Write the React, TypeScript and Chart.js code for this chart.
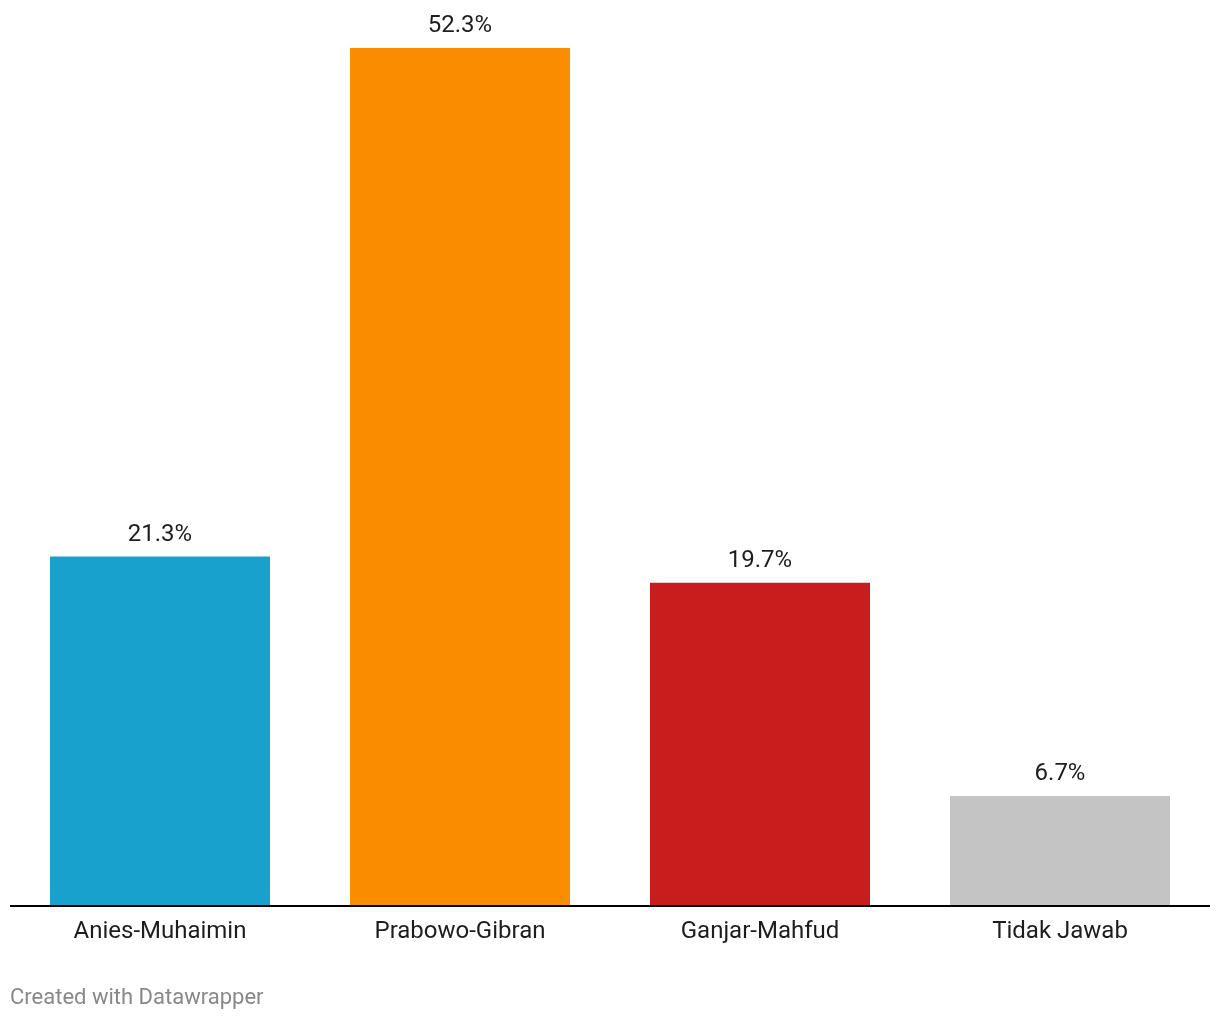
import React, { useEffect, useRef } from "react";
import { Chart, registerables } from "chart.js";

Chart.register(...registerables);

const categories = ["Anies-Muhaimin", "Prabowo-Gibran", "Ganjar-Mahfud", "Tidak Jawab"];
const values = [21.3, 52.3, 19.7, 6.7];
const valueLabels = ["21.3%", "52.3%", "19.7%", "6.7%"];
const colors = ["#18a1cd", "#fa8c00", "#c71e1d", "#c4c4c4"];
const footer = "Created with Datawrapper";

const FONT = "Roboto, 'Noto Sans', sans-serif";

const overlay = {
  id: "overlay",
  afterDatasetsDraw(chart: any) {
    const { ctx, chartArea, scales } = chart;
    const meta = chart.getDatasetMeta(0);
    ctx.save();
    // baseline
    ctx.strokeStyle = "#000000";
    ctx.lineWidth = 2;
    ctx.beginPath();
    const yb = scales.y.getPixelForValue(0);
    ctx.moveTo(chartArea.left, yb);
    ctx.lineTo(chartArea.right, yb);
    ctx.stroke();
    // value labels
    ctx.font = `24px ${FONT}`;
    ctx.fillStyle = "#1d1d1d";
    ctx.textAlign = "center";
    ctx.textBaseline = "alphabetic";
    meta.data.forEach((bar: any, i: number) => {
      ctx.fillText(valueLabels[i], bar.x, bar.y - 16);
    });
    // category labels
    categories.forEach((c, i) => {
      const x = scales.x.getPixelForValue(i);
      ctx.fillText(c, x, yb + 32);
    });
    // footer
    ctx.font = `22px ${FONT}`;
    ctx.fillStyle = "#888888";
    ctx.textAlign = "left";
    ctx.fillText(footer, 10, 1004);
    ctx.restore();
  },
};

export default function App() {
  const ref = useRef<HTMLCanvasElement>(null);
  useEffect(() => {
    document.body.style.margin = "0";
    const chart = new Chart(ref.current!, {
      type: "bar",
      data: {
        labels: categories,
        datasets: [
          {
            data: values,
            backgroundColor: colors,
            borderWidth: 0,
            categoryPercentage: 1,
            barPercentage: 220 / 300,
          },
        ],
      },
      options: {
        animation: false,
        responsive: false,
        maintainAspectRatio: false,
        layout: { padding: { left: 10, right: 10, top: 48, bottom: 114 } },
        plugins: { legend: { display: false }, tooltip: { enabled: false } },
        scales: {
          x: { display: false },
          y: { display: false, min: 0, max: Math.max(...values) },
        },
      },
      plugins: [overlay],
    });
    return () => chart.destroy();
  }, []);
  return (
    <div style={{ width: 1220, height: 1020, background: "#fff" }}>
      <canvas ref={ref} width={1220} height={1020} style={{ display: "block" }} />
    </div>
  );
}
